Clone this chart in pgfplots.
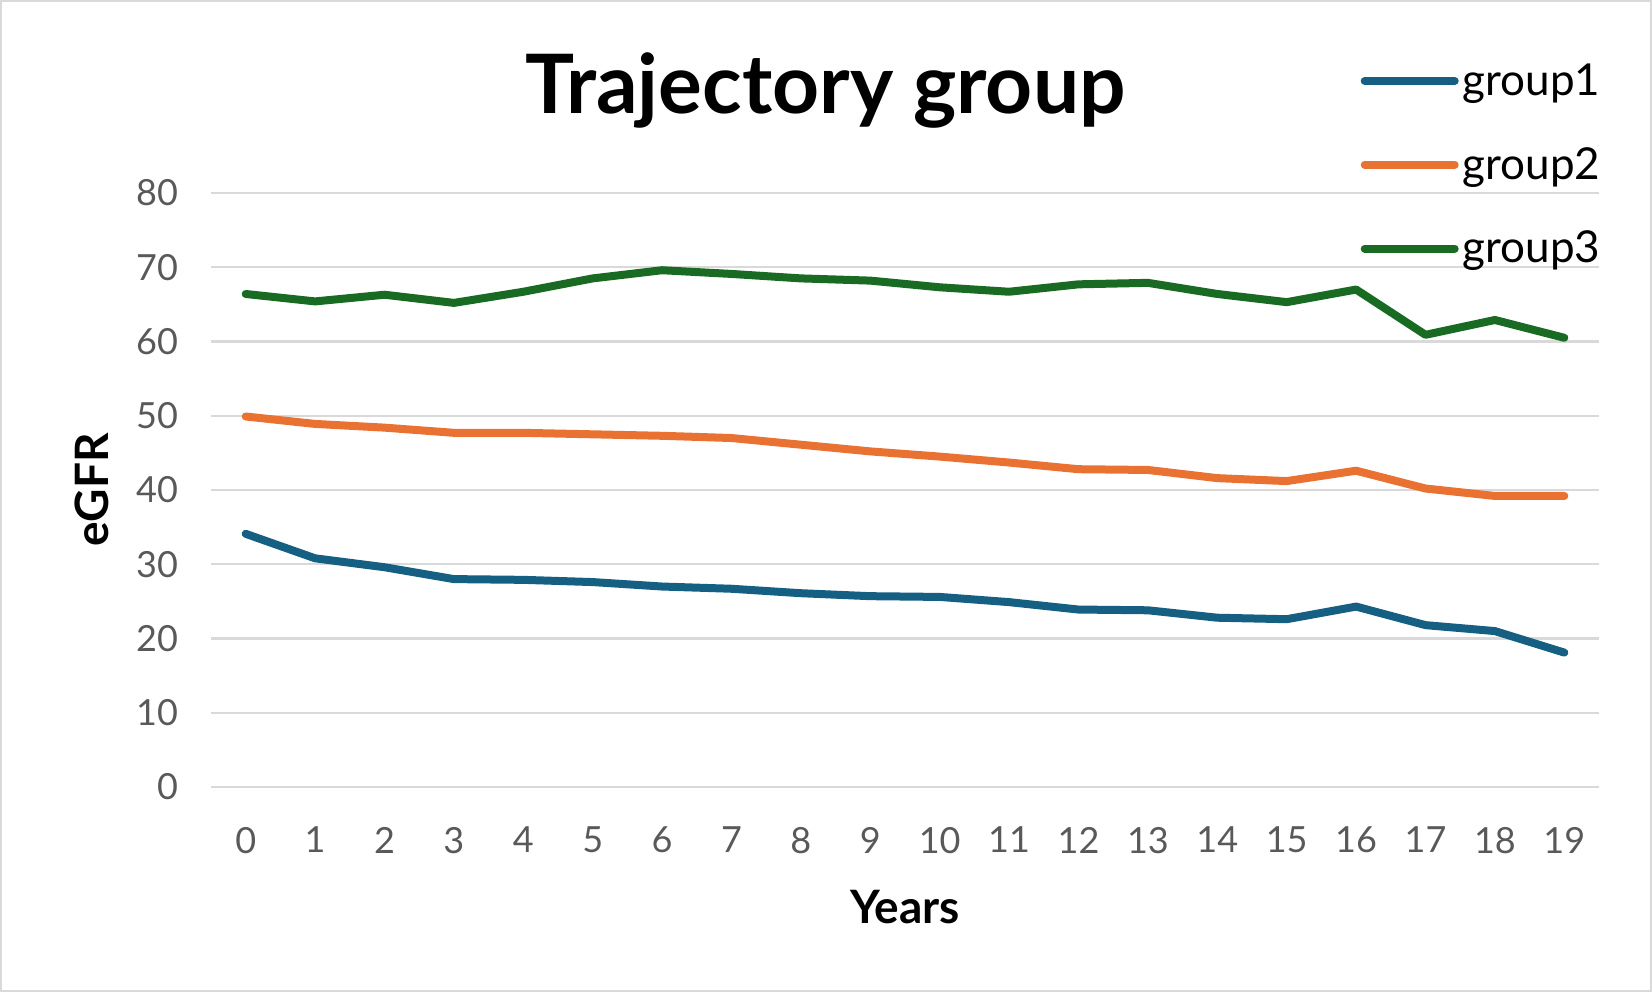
\documentclass[border=0pt]{standalone}
\usepackage{fontspec}
\setmainfont{Lato}
\usepackage{pgfplots}
\pgfplotsset{compat=1.18}
\usepackage{pgfplotstable}

\definecolor{gone}{HTML}{156082}
\definecolor{gtwo}{HTML}{E97132}
\definecolor{gthree}{HTML}{196B24}
\definecolor{gridgray}{HTML}{D9D9D9}
\definecolor{tickgray}{HTML}{595959}
\definecolor{framegray}{HTML}{D9D9D9}

\pgfplotstableread{
year g1   g2   g3
0    34.1 49.9 66.4
1    30.8 48.9 65.4
2    29.6 48.4 66.3
3    28.0 47.7 65.2
4    27.9 47.7 66.7
5    27.6 47.5 68.5
6    27.0 47.3 69.6
7    26.7 47.0 69.1
8    26.1 46.1 68.5
9    25.7 45.2 68.2
10   25.6 44.5 67.3
11   24.9 43.7 66.7
12   23.9 42.8 67.7
13   23.8 42.7 67.9
14   22.8 41.6 66.4
15   22.6 41.2 65.3
16   24.3 42.6 67.0
17   21.8 40.2 60.9
18   21.0 39.2 62.9
19   18.1 39.2 60.5
}\trajdata

\begin{document}
\begin{tikzpicture}[x=1pt,y=1pt]
\useasboundingbox (0,0) rectangle (826,496);
\draw[color=framegray, line width=1.2pt] (0.6,0.6) rectangle (825.4,495.4);
\node[font=\bfseries\fontsize{41}{46}\selectfont, anchor=base] at (412.75,439) {Trajectory group};
\begin{axis}[
    at={(105.5pt,102.5pt)}, anchor=south west,
    scale only axis, width=694pt, height=297pt,
    xmin=-0.5, xmax=19.5, ymin=0, ymax=80,
    xtick={0,...,19}, ytick={0,10,...,80},
    axis line style={draw=none}, major tick length=0pt,
    ymajorgrids, grid style={color=gridgray, line width=1.2pt},
    ticklabel style={font=\fontsize{18}{20}\selectfont, text=tickgray},
    /pgf/number format/assume math mode=true,
    yticklabel style={xshift=-13pt},
    xticklabel style={yshift=-16.5pt},
    xlabel={Years}, ylabel={eGFR},
    label style={font=\bfseries\fontsize{23}{26}\selectfont},
    xlabel style={at={(axis description cs:0.5,-0.202)}, anchor=center},
    ylabel style={at={(axis description cs:-0.0857,0.5)}, anchor=center},
    every axis plot/.append style={line width=4pt, line join=round, line cap=round},
    legend style={at={(0.8237,1.232)}, anchor=north west, draw=none, fill=none,
        font=\fontsize{22}{24}\selectfont, row sep=20.5pt,
        nodes={inner xsep=2pt}},
    legend cell align=left,
    legend image code/.code={\draw[#1, line width=4pt, line cap=round] (0pt,0pt) -- (45pt,0pt);},
]
\addplot[gone] table[x=year, y=g1] {\trajdata};
\addlegendentry{group1}
\addplot[gtwo] table[x=year, y=g2] {\trajdata};
\addlegendentry{group2}
\addplot[gthree] table[x=year, y=g3] {\trajdata};
\addlegendentry{group3}
\end{axis}
\end{tikzpicture}
\end{document}
